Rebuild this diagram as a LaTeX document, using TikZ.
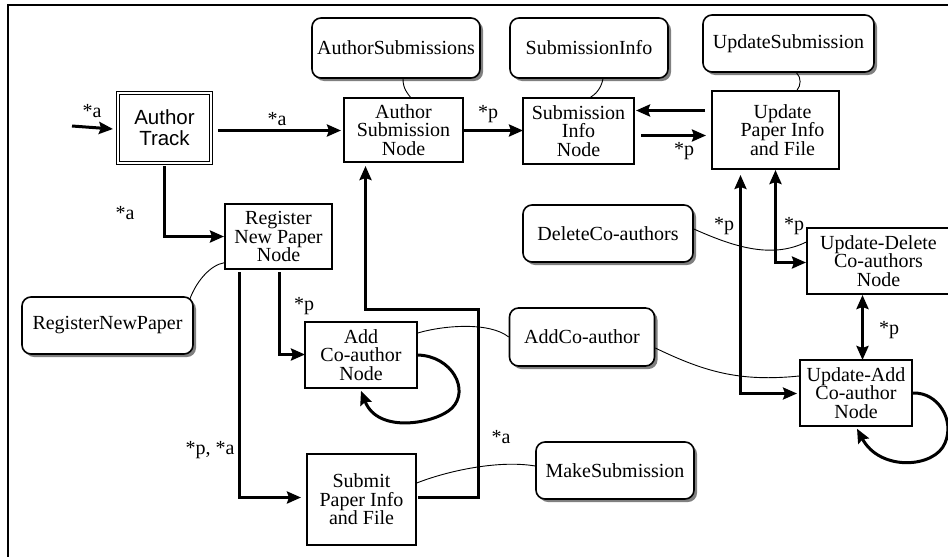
\documentclass[tikz,border=0pt]{standalone}
\usepackage{fontspec}
\setmainfont{Liberation Serif}
\newfontfamily\arialfont{Liberation Sans}
\usetikzlibrary{arrows.meta,shadows}

\begin{document}
\begin{tikzpicture}[x=1pt,y=-1pt,
  every node/.style={font=\fontsize{20}{18.5}\selectfont},
  procbox/.style={draw, line width=1.4pt, rectangle, align=center, inner sep=0pt},
  databox/.style={draw, line width=1.6pt, rounded corners=9pt, fill=white,
    align=center, inner sep=0pt,
    drop shadow={shadow xshift=3pt, shadow yshift=-3pt, fill=black!50, opacity=1}},
  flow/.style={draw, line width=3pt, -{Stealth[length=14pt,width=12pt,inset=2pt]}},
  flowboth/.style={draw, line width=3pt, {Stealth[length=14pt,width=12pt,inset=2pt]}-{Stealth[length=14pt,width=12pt,inset=2pt]}},
  link/.style={draw, line width=0.9pt},
  lbl/.style={inner sep=0pt}
]
\useasboundingbox (0,0) rectangle (948,557);

% outer frame
\coordinate (frameTR) at (948,5);
\coordinate (frameTL) at (8,5);
\coordinate (frameBL) at (8,557);
\draw[line width=1.6pt] (frameTR) -- (frameTL) -- (frameBL);

% processing nodes
\node[procbox, double, double distance=2pt, line width=0.8pt,
      minimum width=93pt, minimum height=70pt,
      font=\arialfont\fontsize{20.5}{21}\selectfont] (at) at (164.5,128) {Author\\Track};
\node[procbox, minimum width=119pt, minimum height=64pt] (asn) at (403.5,130) {Author\\Submission\\Node};
\node[procbox, minimum width=111pt, minimum height=66pt] (sin) at (578.5,131) {Submission\\Info\\Node};
\node[procbox, minimum width=127pt, minimum height=78pt] (upif) at (775.5,130) {\hspace*{14pt}Update\\\hspace*{14pt}Paper Info\\\hspace*{14pt}and File};
\node[procbox, minimum width=143pt, minimum height=66pt] (udcn) at (878.5,261) {Update-Delete\\Co-authors\\Node};
\node[procbox, minimum width=112pt, minimum height=66pt] (uacn) at (856,393) {Update-Add\\Co-author\\Node};
\node[procbox, minimum width=107pt, minimum height=65pt] (rnpn) at (278.5,236.5) {Register\\New Paper\\Node};
\node[procbox, minimum width=112pt, minimum height=66pt] (acn) at (361,355) {Add\\Co-author\\Node};
\node[procbox, minimum width=109pt, minimum height=91pt] (spif) at (361.5,499.5) {Submit\\Paper Info\\and File};

% data (rounded) nodes
\node[databox, minimum width=168pt, minimum height=60pt] (asx) at (396,48) {AuthorSubmissions};
\node[databox, minimum width=158pt, minimum height=60pt] (six) at (589,48) {SubmissionInfo};
\node[databox, minimum width=171pt, minimum height=57pt] (usx) at (788.5,43.5) {UpdateSubmission};
\node[databox, minimum width=170pt, minimum height=57pt] (dca) at (608,233.5) {DeleteCo-authors};
\node[databox, minimum width=171pt, minimum height=57pt] (rnp) at (107.5,325.5) {RegisterNewPaper};
\node[databox, minimum width=145pt, minimum height=58pt] (aca) at (582,337) {AddCo-author};
\node[databox, minimum width=158pt, minimum height=57pt] (mks) at (615,470.5) {MakeSubmission};

% end points and bends of the control flow
\coordinate (entry) at (72,126);
\coordinate (atIn) at (113,129);
\coordinate (atOut) at (218,130.5);
\coordinate (asnIn) at (341,130.5);
\coordinate (asnOut) at (463,130.5);
\coordinate (sinIn) at (523,130.5);
\coordinate (backFrom) at (705,110.5);
\coordinate (backTo) at (636,110.5);
\coordinate (fwdFrom) at (641,135.5);
\coordinate (fwdTo) at (706,135.5);
\coordinate (atDown) at (164.5,166);
\coordinate (atBend) at (164.5,236.5);
\coordinate (rnpnIn) at (224,236.5);
\coordinate (pDown) at (279.5,272);
\coordinate (pBend) at (279.5,354.5);
\coordinate (acnIn) at (305,354.5);
\coordinate (paDown) at (239.5,272);
\coordinate (paBend) at (239.5,497.5);
\coordinate (spifIn) at (301,497.5);
\coordinate (retFrom) at (418,497.5);
\coordinate (retA) at (478.5,497.5);
\coordinate (retB) at (478.5,309.5);
\coordinate (retC) at (365.5,309.5);
\coordinate (asnUp) at (365.5,166);
\coordinate (updUp) at (775.5,170);
\coordinate (updBend) at (775.5,262.5);
\coordinate (udcnIn) at (806,262.5);
\coordinate (uadUp) at (740.5,175);
\coordinate (uadBend) at (740.5,393.5);
\coordinate (uacnIn) at (797,393.5);
\coordinate (delDown) at (862.5,295);
\coordinate (addUp) at (862.5,360);

% links between data nodes and processing nodes
\draw[link] ([xshift=7pt]asx.south) .. controls +(0,10) and +(-3,-4) .. ([xshift=7pt]asn.north);
\draw[link] ([xshift=14pt]six.south) .. controls +(-2,10) and +(5,-3) .. ([xshift=12pt]sin.north);
\draw[link] ([xshift=8pt]usx.south) .. controls +(5,5) and +(4,-5) .. ([xshift=21.5pt]upif.north);
\draw[link] ([yshift=4.5pt]dca.east) .. controls (730,245) and (770,260) .. ([yshift=19pt]udcn.west);
\draw[link] ([xshift=-4pt,yshift=-3pt]rnp.north east) .. controls (196,282) and (210,265) .. ([yshift=7pt]rnpn.south west);
\draw[link] ([yshift=22pt]acn.east) .. controls (445,325) and (490,322) .. (aca.west);
\draw[link] ([yshift=-11pt]aca.east) .. controls (705,372) and (740,382) .. ([yshift=17pt]uacn.west);
\draw[link] ([yshift=16.5pt]spif.east) .. controls (450,470) and (500,460) .. ([yshift=4.5pt]mks.west);

% control flow
\draw[flow] (entry) -- (atIn);
\draw[flow] (atOut) -- (asnIn);
\draw[flow] (asnOut) -- (sinIn);
\draw[flow] (backFrom) -- (backTo);
\draw[flow] (fwdFrom) -- (fwdTo);
\draw[flow] (atDown) -- (atBend) -- (rnpnIn);
\draw[flow] (pDown) -- (pBend) -- (acnIn);
\draw[flow] (paDown) -- (paBend) -- (spifIn);
\draw[flow] (retFrom) -- (retA) -- (retB) -- (retC) -- (asnUp);
\draw[flowboth] (updUp) -- (updBend) -- (udcnIn);
\draw[flowboth, line width=2.4pt] (uadUp) -- (uadBend) -- (uacnIn);
\draw[flowboth] (delDown) -- (addUp);

% self loops
\draw[flow] (acn.east) .. controls (452,356) and (470,390) .. (452,408)
  .. controls (437,423) and (378,435) .. ([yshift=-2pt]acn.south);
\draw[flow] (uacn.east) .. controls (938,392) and (955,420) .. (945,443)
  .. controls (935,468) and (880,472) .. ([xshift=1pt,yshift=-2pt]uacn.south);

% flow labels
\node[lbl] (la1) at (92,111) {*a};
\node[lbl] (la2) at (277,119) {*a};
\node[lbl] (la3) at (125,213) {*a};
\node[lbl] (lp1) at (488,114) {*p};
\node[lbl] (lp2) at (684,151) {*p};
\node[lbl] (lp3) at (724,226) {*p};
\node[lbl] (lp4) at (794,226) {*p};
\node[lbl] (lp5) at (889,330) {*p};
\node[lbl] (lp6) at (304,306) {*p};
\node[lbl] (lpa) at (210,450) {*p, *a};
\node[lbl] (la4) at (501,437) {*a};
\end{tikzpicture}
\end{document}
